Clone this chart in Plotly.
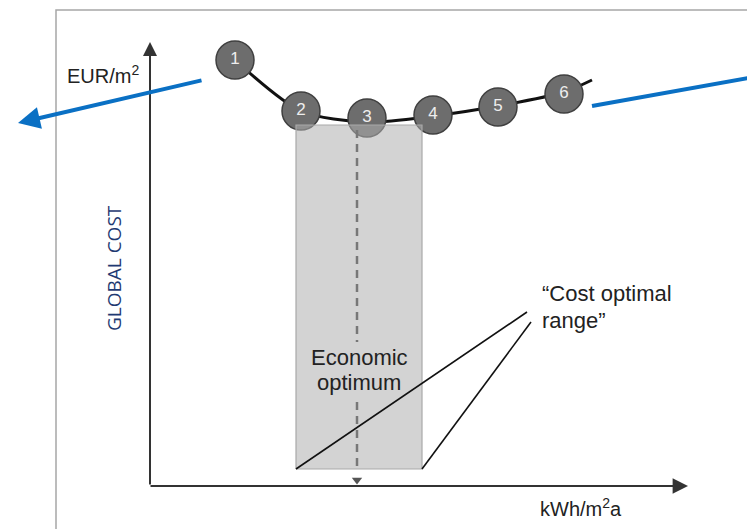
import plotly.graph_objects as go

# ---- data (diagram units: x = energy use, y = global cost) ----
package_labels = ["1", "2", "3", "4", "5", "6"]
package_energy = [85, 151, 217, 283, 348, 414]
package_cost = [426, 375, 368, 371, 379, 392]

curve_energy = [85, 151, 217, 283, 348, 414, 442]
curve_cost = [426, 375, 364, 370, 380, 394, 406]

range_energy = [146, 272]          # cost optimal range (x extent)
range_cost = [17, 361]             # shaded band height
optimum_energy = 207               # economic optimum
optimum_dash_segments = [[356, 144], [84, 18]]

leader_start = [[146, 17], [272, 17]]
leader_end = [[377, 174], [381, 164]]

y_axis = [[0, 0], [0, 444]]
x_axis = [[-1, 0], [538, 0]]

blue_left = [[53, 406], [-132, 363]]
blue_right = [[442, 380], [610, 410]]

FONT = "Liberation Sans, Arial, sans-serif"

fig = go.Figure()

# cost curve
fig.add_trace(go.Scatter(
    x=curve_energy, y=curve_cost, mode="lines",
    line=dict(color="#111111", width=3, shape="spline", smoothing=0.8),
    hoverinfo="skip"))

# numbered packages
fig.add_trace(go.Scatter(
    x=package_energy, y=package_cost, mode="markers+text",
    text=package_labels, textposition="middle center",
    textfont=dict(family=FONT, size=17, color="#eeeeee"),
    marker=dict(size=38, color="#6d6d6d", line=dict(color="#3f3f3f", width=1.5)),
    hoverinfo="skip"))

# shaded cost-optimal range (semi transparent, drawn over circle 3)
fig.add_trace(go.Scatter(
    x=[range_energy[0], range_energy[1], range_energy[1], range_energy[0], range_energy[0]],
    y=[range_cost[0], range_cost[0], range_cost[1], range_cost[1], range_cost[0]],
    mode="lines", fill="toself", fillcolor="rgba(175,175,175,0.55)",
    line=dict(color="#a9a9a9", width=1.2), hoverinfo="skip"))

# dashed optimum line
dash_y, dash_x = [], []
for seg in optimum_dash_segments:
    dash_x += [optimum_energy, optimum_energy, None]
    dash_y += [seg[0], seg[1], None]
fig.add_trace(go.Scatter(
    x=dash_x, y=dash_y, mode="lines",
    line=dict(color="#777777", width=2.5, dash="8px,6px"), hoverinfo="skip"))

fig.add_trace(go.Scatter(
    x=[optimum_energy], y=[6], mode="markers",
    marker=dict(symbol="triangle-down", size=9, color="#555555"), hoverinfo="skip"))

# leader lines
lx, ly = [], []
for s, e in zip(leader_start, leader_end):
    lx += [s[0], e[0], None]
    ly += [s[1], e[1], None]
fig.add_trace(go.Scatter(
    x=lx, y=ly, mode="lines", line=dict(color="#111111", width=1.6), hoverinfo="skip"))

# right blue line
fig.add_trace(go.Scatter(
    x=[p[0] for p in blue_right], y=[p[1] for p in blue_right], mode="lines",
    line=dict(color="#0a70c4", width=4), hoverinfo="skip"))


def arrow_ann(pts, color, width, size):
    (x0, y0), (x1, y1) = pts
    return dict(x=x1, y=y1, ax=x0, ay=y0, xref="x", yref="y", axref="x", ayref="y",
                showarrow=True, arrowhead=2, arrowsize=size, arrowwidth=width,
                arrowcolor=color, text="")


annotations = [
    arrow_ann(y_axis, "#333333", 2, 1.4),
    arrow_ann(x_axis, "#333333", 2.2, 1.4),
    arrow_ann(blue_left, "#0a70c4", 4, 1.1),
    dict(x=-47, y=412, xref="x", yref="y", text="EUR/m<sup>2</sup>", showarrow=False,
         font=dict(family=FONT, size=20, color="#222222")),
    dict(x=431, y=-21, xref="x", yref="y", text="kWh/m<sup>2</sup>a", showarrow=False,
         font=dict(family=FONT, size=20, color="#222222")),
    dict(x=-36, y=218, xref="x", yref="y", text="GLOBAL COST", showarrow=False, textangle=-90,
         font=dict(family="Open Sans, sans-serif", size=19, color="#1f3a72")),
    dict(x=209, y=129, xref="x", yref="y", text="Economic", showarrow=False,
         font=dict(family=FONT, size=22, color="#222222")),
    dict(x=209, y=104, xref="x", yref="y", text="optimum", showarrow=False,
         font=dict(family=FONT, size=22, color="#222222")),
    dict(x=390, y=193, xref="x", yref="y", text="\u201cCost optimal", showarrow=False,
         xanchor="left", font=dict(family=FONT, size=22, color="#222222")),
    dict(x=390, y=166, xref="x", yref="y", text="range\u201d", showarrow=False,
         xanchor="left", font=dict(family=FONT, size=22, color="#222222")),
]

shapes = [
    dict(type="rect", xref="x", yref="y", x0=-94, x1=720, y0=-120, y1=476,
         line=dict(color="#a6a6a6", width=1.5), fillcolor="rgba(0,0,0,0)", layer="below"),
]

fig.update_layout(
    width=747, height=529, autosize=False,
    margin=dict(l=0, r=0, t=0, b=0),
    paper_bgcolor="white", plot_bgcolor="white",
    showlegend=False,
    xaxis=dict(range=[-150, 597], visible=False, fixedrange=True),
    yaxis=dict(range=[-43, 486], visible=False, fixedrange=True),
    annotations=annotations, shapes=shapes,
)

fig.write_html("out.html")
